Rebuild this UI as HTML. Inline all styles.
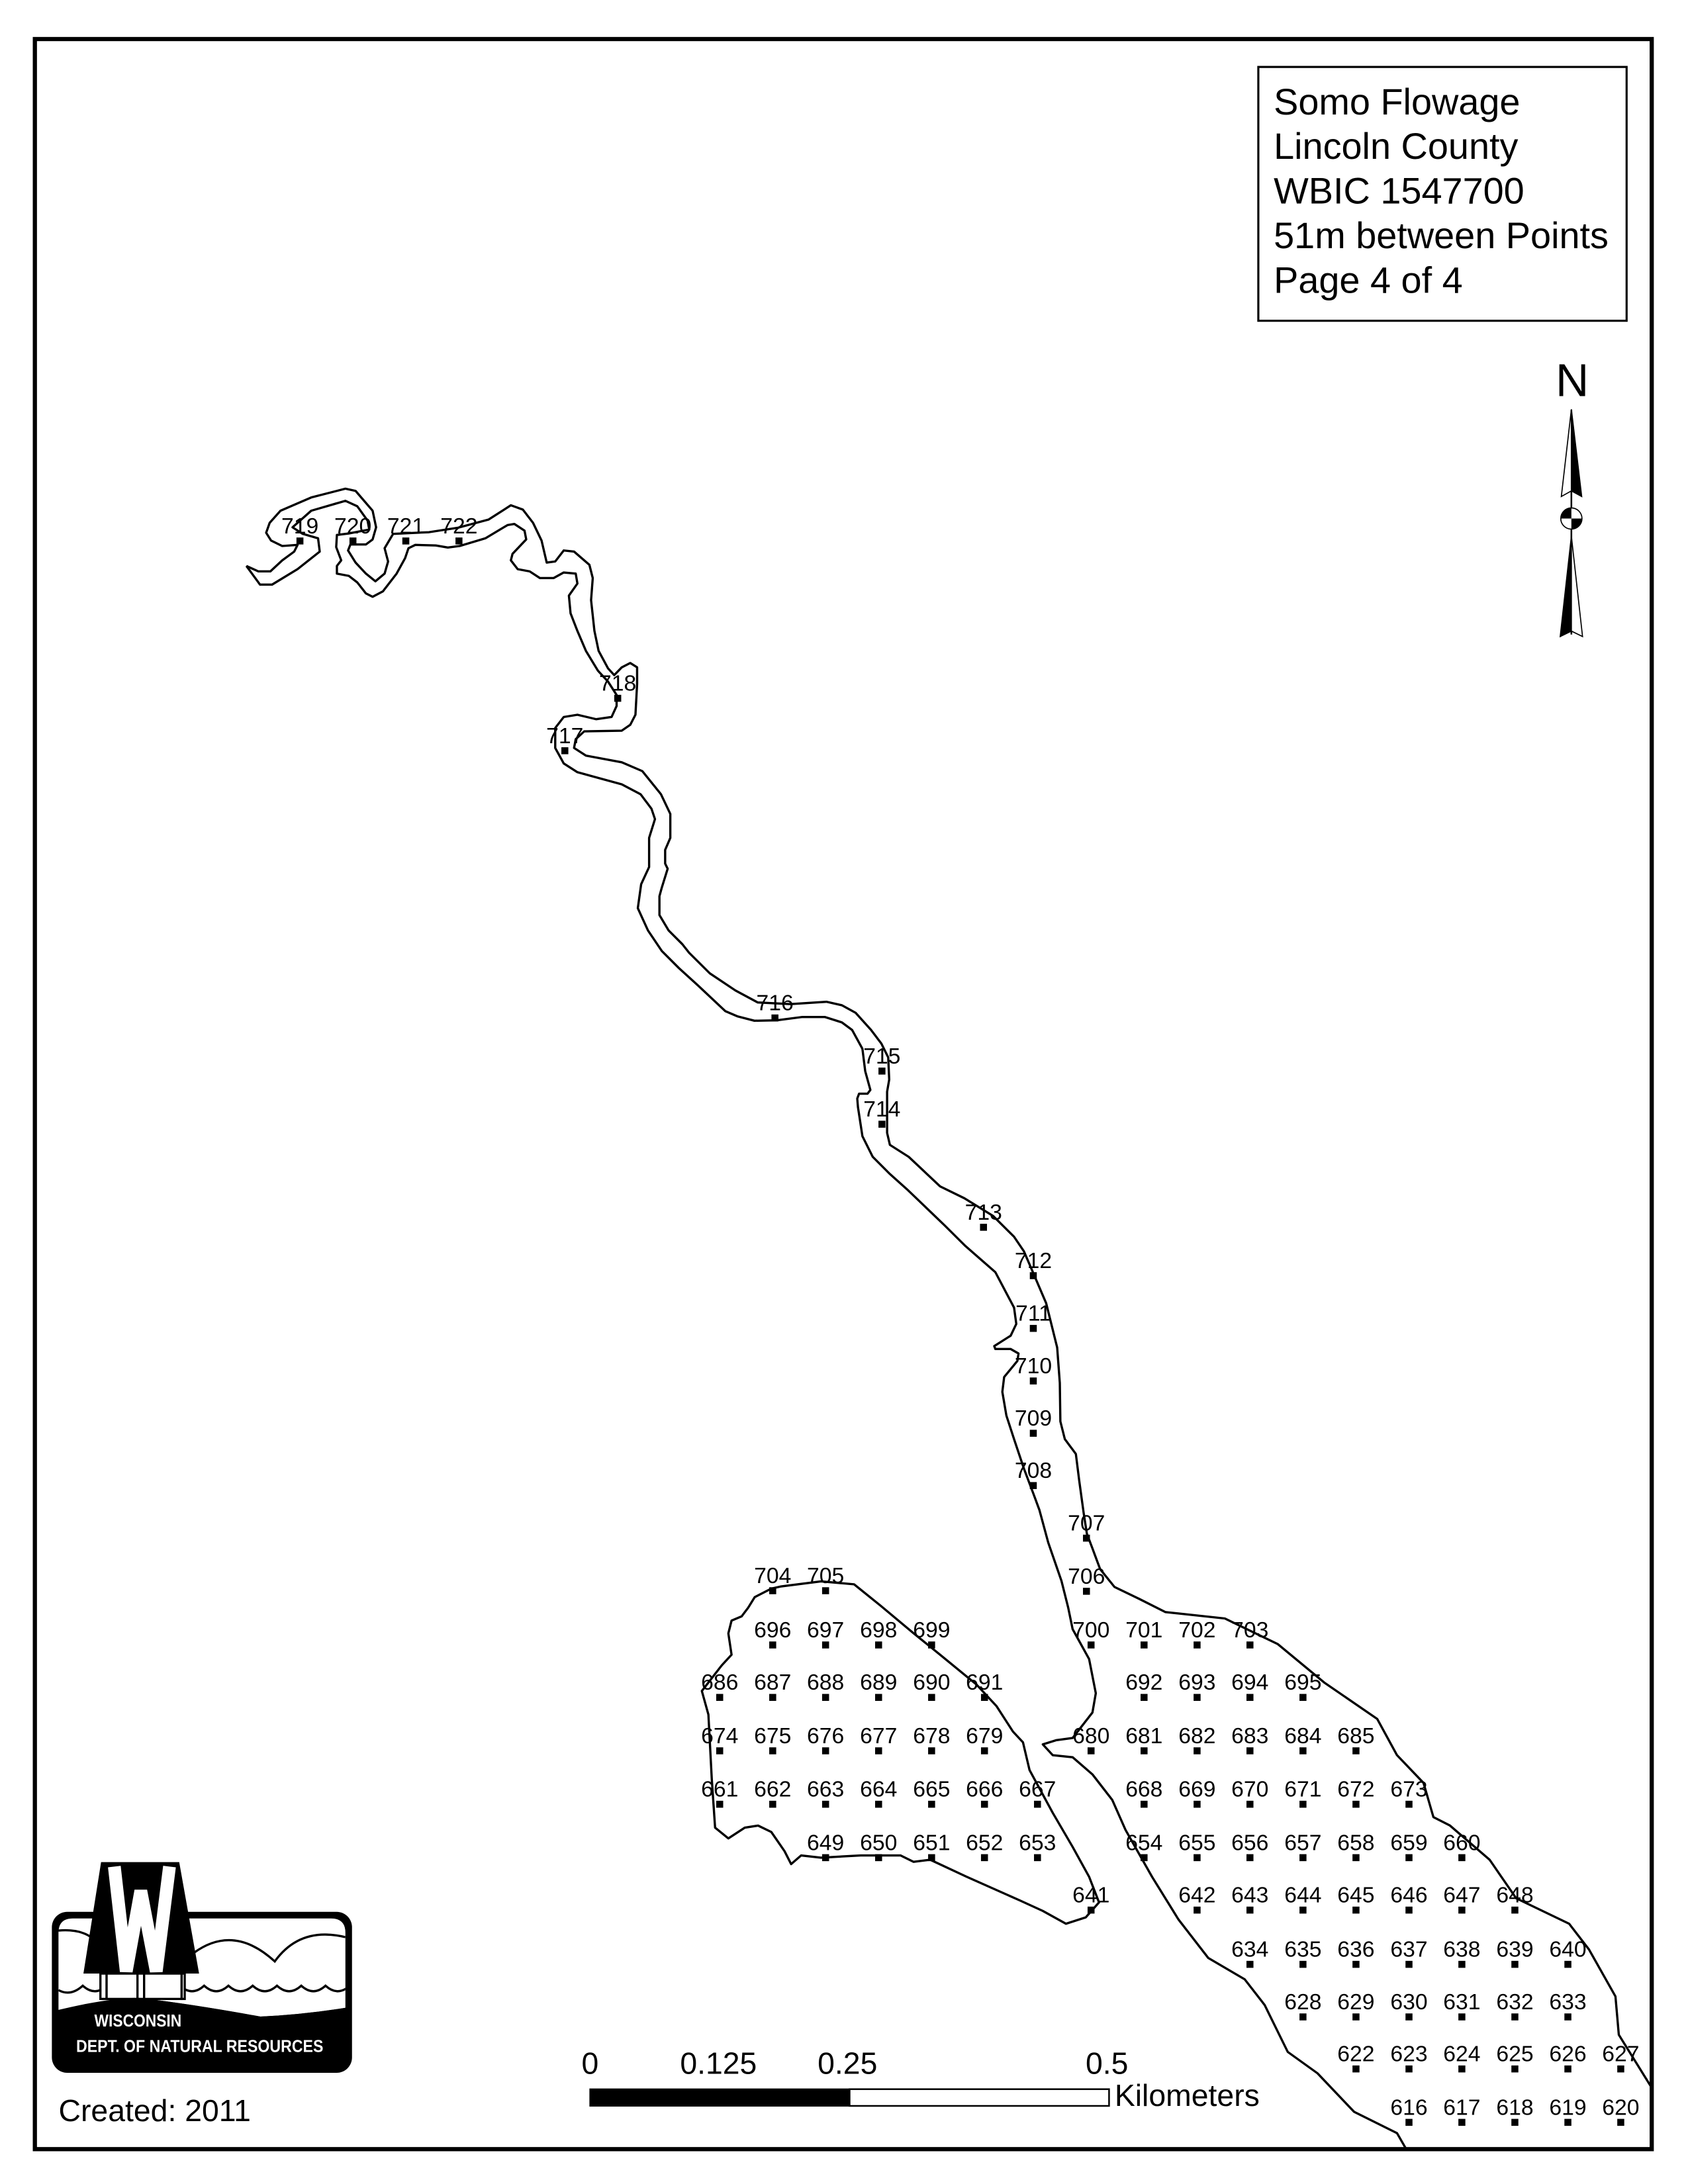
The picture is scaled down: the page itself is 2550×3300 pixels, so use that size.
<!DOCTYPE html>
<html><head><meta charset="utf-8"><style>
html,body{margin:0;padding:0;background:#fff}
svg{display:block}
text{font-family:"Liberation Sans",sans-serif;fill:#000}
.p text{font-size:16px;text-anchor:middle}
</style></head><body>
<svg width="2550" height="3300" viewBox="0 0 1210 1566" preserveAspectRatio="none" xmlns="http://www.w3.org/2000/svg">
<defs><clipPath id="lc"><rect x="85" y="355" width="1300" height="650"/></clipPath></defs>
<rect x="0" y="0" width="1210" height="1566" fill="#fff"/>
<rect x="25" y="28" width="1159" height="1513" fill="none" stroke="#000" stroke-width="3"/>
<rect x="902" y="48" width="264" height="182" fill="none" stroke="#000" stroke-width="1.5"/>
<g font-size="26.5"><text x="913" y="82">Somo Flowage</text><text x="913" y="114">Lincoln County</text><text x="913" y="146">WBIC 1547700</text><text x="913" y="178">51m between Points</text><text x="913" y="210">Page 4 of 4</text></g>

<text x="1127" y="284" font-size="33" text-anchor="middle">N</text>
<line x1="1126.4" y1="294" x2="1126.4" y2="455" stroke="#000" stroke-width="1.2"/>
<polygon points="1126.4,293.5 1119.2,356 1126.4,352" fill="#fff" stroke="#000" stroke-width="0.8"/>
<polygon points="1126.4,293.5 1133.8,356 1126.4,352" fill="#000" stroke="#000" stroke-width="0.8"/>
<circle cx="1126.4" cy="371.8" r="7.6" fill="#fff" stroke="#000" stroke-width="0.8"/>
<path d="M1126.4,371.8 L1118.8,371.8 A7.6,7.6 0 0 1 1126.4,364.2 Z" fill="#000"/>
<path d="M1126.4,371.8 L1134,371.8 A7.6,7.6 0 0 1 1126.4,379.4 Z" fill="#000"/>
<polygon points="1126.4,384.4 1118.4,456.4 1126.4,452.5" fill="#000" stroke="#000" stroke-width="0.8"/>
<polygon points="1126.4,384.4 1134.4,456.4 1126.4,452.5" fill="#fff" stroke="#000" stroke-width="0.8"/>

<g fill="none" stroke="#000" stroke-width="1.6" stroke-linejoin="round">
<polyline points="176.6,405.8 185.2,409.7 193.8,409.7 202.3,401.8 210.9,395.5 213.3,390.7 202.3,391.5 194.3,387.6 190.8,382 193.3,374.9 201.1,366.2 223.1,356.7 247.6,350.4 254.9,352 267.1,366.2 269.6,378.1 267.1,386.8 262.3,390.4 251.2,390.4 249.5,394.7 254.9,403.4 262.3,411.3 269.1,416.8 275.7,411.3 278.2,402.6 275.7,393.1 281.8,382.8 307.5,381.6 328.3,378.4 350.3,372.5 366.2,362.3 374.8,365.4 382.1,374.9 388.2,387.6 391.9,403.4 398,402.6 404.1,394.7 411.5,395.5 422.5,405 424.9,414.5 423.7,430.3 426.1,452.4 429.1,466.7 435.9,479.3 440.3,484.1 445.7,478.5 451.8,475.4 456.7,478.5 456.7,490.4 455.5,512.5 451.8,519.7 445.7,523.9 418.8,524.4 412.7,530 411.5,536.3 420,541.8 445.7,546.6 460.4,552.9 473.8,569.5 480.5,583.6 480.5,600.8 476.8,609.4 476.8,619.2 478.6,622.9 474.4,636.4 472.7,642.6 472.7,656.1 479.3,667.2 489.1,677 494,683.2 508.8,697.9 527.2,710.2 543.2,718.8 566.6,720 592.4,718.3 603.5,720.8 613.3,726.2 624.4,738.5 631.8,748.3 636.7,758.2 637.4,774.1 635.9,782.8 635.9,812.3 637.9,820.9 651.4,829.5 673.9,850.7 691.3,859.2 711.9,871.9 726.9,886.8 734,897.3 740.4,912.2 749.9,934.4 757.8,966.2 759.7,991.6 760.1,1019.2 763.3,1031.9 771.2,1042.5 773.6,1061.6 776.8,1084.9 779.1,1099.7 783.1,1110.3 788.6,1125.1 798.9,1137.9 816.3,1146.3 835.3,1155.9 878,1160.5 916,1178.9 949.2,1206.4 987.2,1232.5 1001.4,1258.5 1020.4,1278.4 1027.5,1302.9 1039.4,1309 1067.8,1333.5 1086.8,1361.1 1124.8,1379.4 1139,1397.8 1158,1431.5 1160.4,1459 1184,1497"/>
<polyline points="176.6,405.8 186.4,419.2 195,419.2 213.3,408.1 229.2,395.5 228,386 217,382.8 209.7,378.1 223.1,366.2 247.6,359.1 256.1,363 263.5,373.3 264.7,379.7 250,382.5 241.5,383.6 241,392.3 244.6,401.8 241.5,405.8 241.5,411.3 250,412.9 256.1,417.6 262.3,425.5 267.1,427.9 274.5,424 284.3,411.3 290.4,400.2 292.8,393.1 297.7,390.7 312.4,391.1 321,392.6 329.5,391.5 347.9,386 363.8,376.5 368.7,375.7 376,380.5 377.2,386.8 367.4,397.1 366.2,401.8 371.1,408.1 379.7,409.7 387,414.5 396.8,414.5 404.1,410.5 412.7,411.3 413.9,418.4 407.8,427.1 409,439.8 413.9,452.4 420,466.7 428.6,480.9 435.9,488.8 442,498.3 442,506.2 438.4,514.1 427.4,515.7 413.9,512.5 404.1,514.1 398,522 398,536.3 404.1,547.4 413.9,553.7 445.7,562.4 459.2,569.5 467,579.9 469.5,587.3 465.3,600.8 465.3,621.7 459.6,634 457.2,651.2 464.5,667.2 474.4,681.9 486.7,694.2 500.2,706.5 519.9,725 528.5,728.7 540.8,731.9 556.7,731.6 575.2,729.2 591.2,729.2 603.5,733.1 610.8,738.5 618.2,752 620.2,768 623.9,781.5 621.9,784.2 615.8,784.2 614.5,787.7 615,793.8 618.2,814.7 625.6,829.5 637.9,841.8 650.2,852.8 677.2,878.7 692,893.4 713.5,912.2 726.9,937.6 728.5,949.3 724.5,957.7 712.7,965.2 713.5,967.3 724.5,967.3 730.1,970.5 729.3,975.8 719.8,987.4 718.5,998 721.4,1015 726.9,1031.9 734,1053.1 741.2,1072.2 745.1,1082.8 751.4,1106.1 760.9,1133.6 765.7,1152.7 768.9,1168.2 780.7,1189.6 785.5,1214.1 783.1,1227.9 768.9,1246.2 757,1247.8 747.5,1250.8 754.6,1258.5 768.9,1260 783.1,1272.3 797.3,1290.6 806.8,1312.1 825.8,1345.7 844.8,1376.4 866.1,1403.9 892.2,1419.2 906.5,1437.6 923.1,1471.3 944.4,1486.6 970.6,1514.2 1001.4,1529.5 1008,1541"/>
<polygon points="552.9,1139.1 541,1145.2 536.3,1152.8 531.6,1159 524.4,1162 522.1,1171.2 524.4,1186.5 517.3,1194.2 503.1,1212.5 507.8,1229.4 510.2,1275.3 512.6,1310.5 522.1,1318.2 533.9,1310.5 543.4,1309 552.9,1313.6 562.4,1327.4 567.1,1336.6 574.3,1330.4 588.5,1332 617,1330.4 645.5,1330.4 654.9,1335 666.8,1333.5 692.9,1345.7 730.9,1362.6 747.5,1370.2 764.1,1379.4 778.3,1374.8 787.8,1364.1 780.7,1345.7 768.9,1324.3 754.6,1299.8 738,1269.2 733.3,1249.3 726.1,1241.6 714.3,1223.3 700,1207.9 673.9,1186.5 655,1171.2 631.2,1151.3 612.2,1136 588.5,1133.9 560,1137.5"/>
</g>

<g class="p">
<rect x="212.5" y="385.4" width="5" height="5"/><text x="215" y="382.4">719</text>
<rect x="250.5" y="385.4" width="5" height="5"/><text x="253" y="382.4">720</text>
<rect x="288.4" y="385.4" width="5" height="5"/><text x="290.9" y="382.4">721</text>
<rect x="326.5" y="385.4" width="5" height="5"/><text x="329" y="382.4">722</text>
<rect x="440.3" y="498.2" width="5" height="5"/><text x="442.8" y="495.2">718</text>
<rect x="402.4" y="535.8" width="5" height="5"/><text x="404.9" y="532.8">717</text>
<rect x="553" y="727.4" width="5" height="5"/><text x="555.5" y="724.4">716</text>
<rect x="629.7" y="765.5" width="5" height="5"/><text x="632.2" y="762.5">715</text>
<rect x="629.7" y="803.6" width="5" height="5"/><text x="632.2" y="800.6">714</text>
<rect x="702.5" y="877.5" width="5" height="5"/><text x="705" y="874.5">713</text>
<rect x="738.2" y="912.2" width="5" height="5"/><text x="740.7" y="909.2">712</text>
<rect x="738.2" y="950" width="5" height="5"/><text x="740.7" y="947">711</text>
<rect x="738.2" y="987.7" width="5" height="5"/><text x="740.7" y="984.7">710</text>
<rect x="738.2" y="1025.2" width="5" height="5"/><text x="740.7" y="1022.2">709</text>
<rect x="738.2" y="1062.7" width="5" height="5"/><text x="740.7" y="1059.7">708</text>
<rect x="776.3" y="1100.4" width="5" height="5"/><text x="778.8" y="1097.4">707</text>
<rect x="776.3" y="1138.5" width="5" height="5"/><text x="778.8" y="1135.5">706</text>

<rect x="551.4" y="1138.1" width="5" height="5"/><text x="553.9" y="1135.1">704</text>
<rect x="589.3" y="1138.1" width="5" height="5"/><text x="591.8" y="1135.1">705</text>

<rect x="551.4" y="1177" width="5" height="5"/><text x="553.9" y="1174">696</text>
<rect x="589.3" y="1177" width="5" height="5"/><text x="591.8" y="1174">697</text>
<rect x="627.3" y="1177" width="5" height="5"/><text x="629.8" y="1174">698</text>
<rect x="665.3" y="1177" width="5" height="5"/><text x="667.8" y="1174">699</text>
<rect x="779.6" y="1177" width="5" height="5"/><text x="782.1" y="1174">700</text>
<rect x="817.6" y="1177" width="5" height="5"/><text x="820.1" y="1174">701</text>
<rect x="855.6" y="1177" width="5" height="5"/><text x="858.1" y="1174">702</text>
<rect x="893.5" y="1177" width="5" height="5"/><text x="896" y="1174">703</text>

<rect x="513.4" y="1214.6" width="5" height="5"/><text x="515.9" y="1211.6">686</text>
<rect x="551.4" y="1214.6" width="5" height="5"/><text x="553.9" y="1211.6">687</text>
<rect x="589.3" y="1214.6" width="5" height="5"/><text x="591.8" y="1211.6">688</text>
<rect x="627.3" y="1214.6" width="5" height="5"/><text x="629.8" y="1211.6">689</text>
<rect x="665.3" y="1214.6" width="5" height="5"/><text x="667.8" y="1211.6">690</text>
<rect x="703.2" y="1214.6" width="5" height="5"/><text x="705.7" y="1211.6">691</text>
<rect x="817.6" y="1214.6" width="5" height="5"/><text x="820.1" y="1211.6">692</text>
<rect x="855.6" y="1214.6" width="5" height="5"/><text x="858.1" y="1211.6">693</text>
<rect x="893.5" y="1214.6" width="5" height="5"/><text x="896" y="1211.6">694</text>
<rect x="931.5" y="1214.6" width="5" height="5"/><text x="934" y="1211.6">695</text>

<rect x="513.4" y="1252.9" width="5" height="5"/><text x="515.9" y="1249.9">674</text>
<rect x="551.4" y="1252.9" width="5" height="5"/><text x="553.9" y="1249.9">675</text>
<rect x="589.3" y="1252.9" width="5" height="5"/><text x="591.8" y="1249.9">676</text>
<rect x="627.3" y="1252.9" width="5" height="5"/><text x="629.8" y="1249.9">677</text>
<rect x="665.3" y="1252.9" width="5" height="5"/><text x="667.8" y="1249.9">678</text>
<rect x="703.2" y="1252.9" width="5" height="5"/><text x="705.7" y="1249.9">679</text>
<rect x="779.6" y="1252.9" width="5" height="5"/><text x="782.1" y="1249.9">680</text>
<rect x="817.6" y="1252.9" width="5" height="5"/><text x="820.1" y="1249.9">681</text>
<rect x="855.6" y="1252.9" width="5" height="5"/><text x="858.1" y="1249.9">682</text>
<rect x="893.5" y="1252.9" width="5" height="5"/><text x="896" y="1249.9">683</text>
<rect x="931.5" y="1252.9" width="5" height="5"/><text x="934" y="1249.9">684</text>
<rect x="969.5" y="1252.9" width="5" height="5"/><text x="972" y="1249.9">685</text>

<rect x="513.4" y="1291.2" width="5" height="5"/><text x="515.9" y="1288.2">661</text>
<rect x="551.4" y="1291.2" width="5" height="5"/><text x="553.9" y="1288.2">662</text>
<rect x="589.3" y="1291.2" width="5" height="5"/><text x="591.8" y="1288.2">663</text>
<rect x="627.3" y="1291.2" width="5" height="5"/><text x="629.8" y="1288.2">664</text>
<rect x="665.3" y="1291.2" width="5" height="5"/><text x="667.8" y="1288.2">665</text>
<rect x="703.2" y="1291.2" width="5" height="5"/><text x="705.7" y="1288.2">666</text>
<rect x="741.2" y="1291.2" width="5" height="5"/><text x="743.7" y="1288.2">667</text>
<rect x="817.6" y="1291.2" width="5" height="5"/><text x="820.1" y="1288.2">668</text>
<rect x="855.6" y="1291.2" width="5" height="5"/><text x="858.1" y="1288.2">669</text>
<rect x="893.5" y="1291.2" width="5" height="5"/><text x="896" y="1288.2">670</text>
<rect x="931.5" y="1291.2" width="5" height="5"/><text x="934" y="1288.2">671</text>
<rect x="969.5" y="1291.2" width="5" height="5"/><text x="972" y="1288.2">672</text>
<rect x="1007.5" y="1291.2" width="5" height="5"/><text x="1010" y="1288.2">673</text>

<rect x="589.3" y="1329.5" width="5" height="5"/><text x="591.8" y="1326.5">649</text>
<rect x="627.3" y="1329.5" width="5" height="5"/><text x="629.8" y="1326.5">650</text>
<rect x="665.3" y="1329.5" width="5" height="5"/><text x="667.8" y="1326.5">651</text>
<rect x="703.2" y="1329.5" width="5" height="5"/><text x="705.7" y="1326.5">652</text>
<rect x="741.2" y="1329.5" width="5" height="5"/><text x="743.7" y="1326.5">653</text>
<rect x="817.6" y="1329.5" width="5" height="5"/><text x="820.1" y="1326.5">654</text>
<rect x="855.6" y="1329.5" width="5" height="5"/><text x="858.1" y="1326.5">655</text>
<rect x="893.5" y="1329.5" width="5" height="5"/><text x="896" y="1326.5">656</text>
<rect x="931.5" y="1329.5" width="5" height="5"/><text x="934" y="1326.5">657</text>
<rect x="969.5" y="1329.5" width="5" height="5"/><text x="972" y="1326.5">658</text>
<rect x="1007.5" y="1329.5" width="5" height="5"/><text x="1010" y="1326.5">659</text>
<rect x="1045.4" y="1329.5" width="5" height="5"/><text x="1047.9" y="1326.5">660</text>

<rect x="779.6" y="1367.1" width="5" height="5"/><text x="782.1" y="1364.1">641</text>
<rect x="855.6" y="1367.1" width="5" height="5"/><text x="858.1" y="1364.1">642</text>
<rect x="893.5" y="1367.1" width="5" height="5"/><text x="896" y="1364.1">643</text>
<rect x="931.5" y="1367.1" width="5" height="5"/><text x="934" y="1364.1">644</text>
<rect x="969.5" y="1367.1" width="5" height="5"/><text x="972" y="1364.1">645</text>
<rect x="1007.5" y="1367.1" width="5" height="5"/><text x="1010" y="1364.1">646</text>
<rect x="1045.4" y="1367.1" width="5" height="5"/><text x="1047.9" y="1364.1">647</text>
<rect x="1083.4" y="1367.1" width="5" height="5"/><text x="1085.9" y="1364.1">648</text>

<rect x="893.5" y="1406" width="5" height="5"/><text x="896" y="1403">634</text>
<rect x="931.5" y="1406" width="5" height="5"/><text x="934" y="1403">635</text>
<rect x="969.5" y="1406" width="5" height="5"/><text x="972" y="1403">636</text>
<rect x="1007.5" y="1406" width="5" height="5"/><text x="1010" y="1403">637</text>
<rect x="1045.4" y="1406" width="5" height="5"/><text x="1047.9" y="1403">638</text>
<rect x="1083.4" y="1406" width="5" height="5"/><text x="1085.9" y="1403">639</text>
<rect x="1121.4" y="1406" width="5" height="5"/><text x="1123.9" y="1403">640</text>

<rect x="931.5" y="1443.7" width="5" height="5"/><text x="934" y="1440.7">628</text>
<rect x="969.5" y="1443.7" width="5" height="5"/><text x="972" y="1440.7">629</text>
<rect x="1007.5" y="1443.7" width="5" height="5"/><text x="1010" y="1440.7">630</text>
<rect x="1045.4" y="1443.7" width="5" height="5"/><text x="1047.9" y="1440.7">631</text>
<rect x="1083.4" y="1443.7" width="5" height="5"/><text x="1085.9" y="1440.7">632</text>
<rect x="1121.4" y="1443.7" width="5" height="5"/><text x="1123.9" y="1440.7">633</text>

<rect x="969.5" y="1481" width="5" height="5"/><text x="972" y="1478">622</text>
<rect x="1007.5" y="1481" width="5" height="5"/><text x="1010" y="1478">623</text>
<rect x="1045.4" y="1481" width="5" height="5"/><text x="1047.9" y="1478">624</text>
<rect x="1083.4" y="1481" width="5" height="5"/><text x="1085.9" y="1478">625</text>
<rect x="1121.4" y="1481" width="5" height="5"/><text x="1123.9" y="1478">626</text>
<rect x="1159.3" y="1481" width="5" height="5"/><text x="1161.8" y="1478">627</text>

<rect x="1007.5" y="1519.3" width="5" height="5"/><text x="1010" y="1516.3">616</text>
<rect x="1045.4" y="1519.3" width="5" height="5"/><text x="1047.9" y="1516.3">617</text>
<rect x="1083.4" y="1519.3" width="5" height="5"/><text x="1085.9" y="1516.3">618</text>
<rect x="1121.4" y="1519.3" width="5" height="5"/><text x="1123.9" y="1516.3">619</text>
<rect x="1159.3" y="1519.3" width="5" height="5"/><text x="1161.8" y="1516.3">620</text>
</g>

<g font-size="22" text-anchor="middle">
<text x="423" y="1487">0</text><text x="515" y="1487">0.125</text><text x="607.5" y="1487">0.25</text><text x="793.5" y="1487">0.5</text>
</g>
<rect x="423" y="1498" width="186" height="12" fill="#000" stroke="#000" stroke-width="1"/>
<rect x="609" y="1498" width="186" height="12" fill="#fff" stroke="#000" stroke-width="1.2"/>
<text x="799" y="1510" font-size="22">Kilometers</text>

<g transform="translate(28.48,1319.4) scale(0.1582)">
<rect x="55" y="325" width="1360" height="730" rx="70" fill="#000"/>
<path d="M85,420 Q85,355 150,355 L1320,355 Q1385,355 1385,420 L1385,760 Q1200,790 1000,800 Q700,745 450,715 Q310,720 85,770 Z" fill="#fff"/>
<g clip-path="url(#lc)">
<path d="M85,410 Q200,400 255,460" fill="none" stroke="#000" stroke-width="10"/>
<path d="M700,510 Q880,380 1065,550 Q1180,390 1385,440" fill="none" stroke="#000" stroke-width="10"/>
<path d="M85,680 q55,30 110,-20 q55,50 110,0 q55,50 110,0 q55,50 110,0 q55,50 110,0 q55,50 110,0 q55,50 110,0 q55,50 110,0 q55,50 110,0 q55,50 110,0 q55,50 110,0 q55,50 110,0" fill="none" stroke="#000" stroke-width="10"/>
</g>
<polygon points="278,100 632,100 722,605 198,605" fill="#000"/>
<polyline points="338,120 392,595 458,230 528,595 588,120" fill="none" stroke="#fff" stroke-width="58" stroke-linejoin="miter"/>
<rect x="275" y="605" width="28" height="115" fill="#fff" stroke="#000" stroke-width="10"/>
<rect x="303" y="605" width="140" height="115" fill="#fff" stroke="#000" stroke-width="10"/>
<rect x="443" y="605" width="30" height="115" fill="#fff" stroke="#000" stroke-width="10"/>
<rect x="473" y="605" width="170" height="115" fill="#fff" stroke="#000" stroke-width="10"/>
<rect x="643" y="605" width="14" height="115" fill="#fff" stroke="#000" stroke-width="10"/>
<path d="M85,770 Q310,715 450,715 Q700,745 1000,800 Q1200,790 1385,760 L1385,1000 L85,1000 Z" fill="#000"/>
<text x="445" y="845" font-size="78" font-weight="bold" text-anchor="middle" style="fill:#fff" textLength="395" lengthAdjust="spacingAndGlyphs">WISCONSIN</text>
<text x="165" y="960" font-size="78" font-weight="bold" style="fill:#fff" textLength="1120" lengthAdjust="spacingAndGlyphs">DEPT. OF NATURAL RESOURCES</text>
</g>
<text x="42" y="1521" font-size="22">Created: 2011</text>
</svg>
</body></html>
